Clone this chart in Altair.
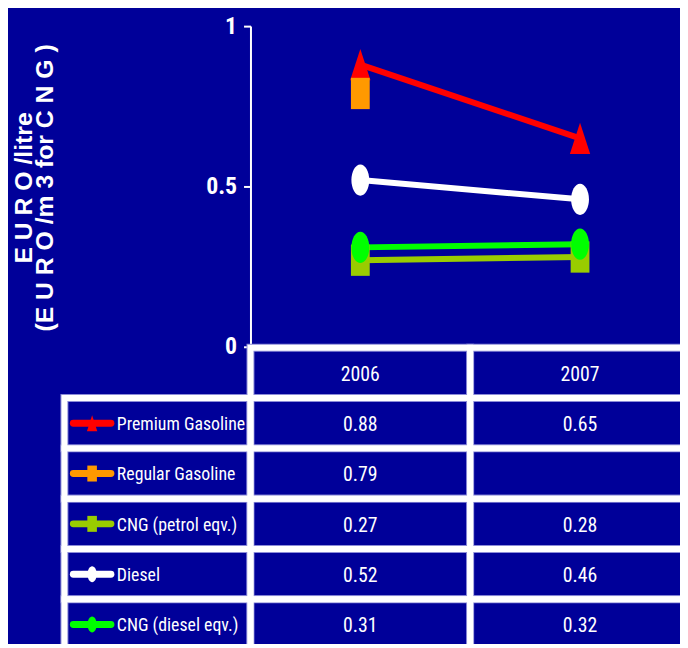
import altair as alt
import pandas as pd

# ---------------- data ----------------
series = ["Premium Gasoline", "Regular Gasoline", "CNG (petrol eqv.)", "Diesel", "CNG (diesel eqv.)"]
years = ["2006", "2007"]
values_2006 = [0.88, 0.79, 0.27, 0.52, 0.31]
values_2007 = [0.65, None, 0.28, 0.46, 0.32]
colors = ["#FF0000", "#FF9900", "#99CC00", "#FFFFFF", "#00FF00"]
y_ticks = [0, 0.5, 1]
y_title = ["E U R O /litre", "(E U R O /m 3  for C N G )"]

# marker shapes (tall triangle, tall rectangle, tall ellipse)
TRI = "M0,-1L0.65,1L-0.65,1Z"
RECT = "M-0.6,-1L0.6,-1L0.6,1L-0.6,1Z"
ELL = "M0.57,0A0.57,1,0,1,1,-0.57,0A0.57,1,0,1,1,0.57,0Z"
shapes = [TRI, RECT, RECT, ELL, ELL]

BG = "#000099"
NARROW = "Roboto Condensed, Liberation Sans Narrow, Arial Narrow, DejaVu Sans Condensed, sans-serif"

# ---------------- tables ----------------
rows = []
for s, v6, v7 in zip(series, values_2006, values_2007):
    for yr, v in zip(years, [v6, v7]):
        if v is not None:
            rows.append({"series": s, "year": yr, "value": v})
df = pd.DataFrame(rows)

row_keys = ["header"] + series
cells = []
for yr in years:
    cells.append({"row": "header", "year": yr, "text": yr})
for s, v6, v7 in zip(series, values_2006, values_2007):
    cells.append({"row": s, "year": "2006", "text": "" if v6 is None else f"{v6:.2f}"})
    cells.append({"row": s, "year": "2007", "text": "" if v7 is None else f"{v7:.2f}"})
cells_df = pd.DataFrame(cells)
legend_df = pd.DataFrame({"row": series, "series": series})

# ---------------- scales ----------------
x_scale = alt.Scale(type="band", domain=years, range=[0, 444], paddingInner=0, paddingOuter=0)
row_scale = alt.Scale(type="band", domain=row_keys, range=[325, 630], paddingInner=0, paddingOuter=0)
y_scale = alt.Scale(domain=[0, 1], nice=False)
color_scale = alt.Scale(domain=series, range=colors)
shape_scale = alt.Scale(domain=series, range=shapes)

y_axis = alt.Axis(
    values=y_ticks, format="~g", grid=False,
    domainColor="white", domainWidth=2,
    tickColor="white", tickWidth=2, tickSize=7,
    labelColor="white", labelFont=NARROW, labelFontSize=24, labelFontWeight="bold",
    labelPadding=7,
    titleColor="white", titleFont="Liberation Sans, Arial, sans-serif",
    titleFontSize=25, titleFontWeight="bold",
    titleAngle=270, titleAlign="center", titleBaseline="alphabetic",
    titleX=-221, titleY=163, titleLineHeight=21,
)

x_enc = alt.X("year:N", scale=x_scale, axis=None, bandPosition=0.5)
y_enc = alt.Y("value:Q", scale=y_scale, axis=y_axis, title=y_title)
color_enc = alt.Color("series:N", scale=color_scale, legend=None)
shape_enc = alt.Shape("series:N", scale=shape_scale, legend=None)

base = alt.Chart(df)
lines = base.mark_line(strokeWidth=6).encode(x=x_enc, y=y_enc, color=color_enc)
points = base.mark_point(filled=True, size=1000, opacity=1, strokeWidth=0).encode(
    x=x_enc, y=y_enc, color=color_enc, shape=shape_enc
)
plot = alt.layer(lines, points)

# ---------------- data table ----------------
row_enc = alt.Y("row:N", scale=row_scale, axis=None)
row_center = alt.Y("row:N", scale=row_scale, axis=None, bandPosition=0.5)
year_band = alt.X("year:N", scale=x_scale, axis=None)

cell_fill = alt.Chart(cells_df).mark_rect(fill=BG, stroke="#8C8CD8", strokeWidth=8).encode(
    x=year_band, y=row_enc
)
cell_frame = alt.Chart(cells_df).mark_rect(fillOpacity=0, stroke="white", strokeWidth=6).encode(
    x=year_band, y=row_enc
)
label_fill = alt.Chart(legend_df).mark_rect(fill=BG, stroke="#8C8CD8", strokeWidth=8).encode(
    x=alt.value(-188), x2=alt.value(0), y=row_enc
)
label_frame = alt.Chart(legend_df).mark_rect(fillOpacity=0, stroke="white", strokeWidth=6).encode(
    x=alt.value(-188), x2=alt.value(0), y=row_enc
)
cell_text = alt.Chart(cells_df).mark_text(
    font=NARROW, fontSize=20, color="white", align="center", baseline="middle", dy=2
).encode(x=alt.X("year:N", scale=x_scale, axis=None, bandPosition=0.5), y=row_center, text="text:N")

legend_lines = alt.Chart(legend_df).mark_rule(strokeWidth=7, strokeCap="round").encode(
    x=alt.value(-179), x2=alt.value(-141), y=row_center, color=color_enc
)
legend_marks = alt.Chart(legend_df).mark_point(filled=True, size=260, opacity=1, strokeWidth=0).encode(
    x=alt.value(-160), y=row_center, color=color_enc, shape=shape_enc
)
legend_text = alt.Chart(legend_df).mark_text(
    font=NARROW, fontSize=18, color="white", align="left", baseline="middle", dy=2
).encode(x=alt.value(-135), y=row_center, text="series:N")

table = alt.layer(label_fill, cell_fill, label_frame, cell_frame, cell_text,
                  legend_lines, legend_marks, legend_text)

chart = (
    alt.layer(plot, table)
    .resolve_scale(y="independent")
    .properties(
        width=434, height=324,
        autosize=alt.AutoSizeParams(type="none"),
        padding={"left": 245, "top": 15, "right": 0, "bottom": 297},
        background=BG,
    )
    .configure_view(strokeWidth=0)
)

chart.save("out.html", embed_options={"renderer": "svg", "actions": False})
